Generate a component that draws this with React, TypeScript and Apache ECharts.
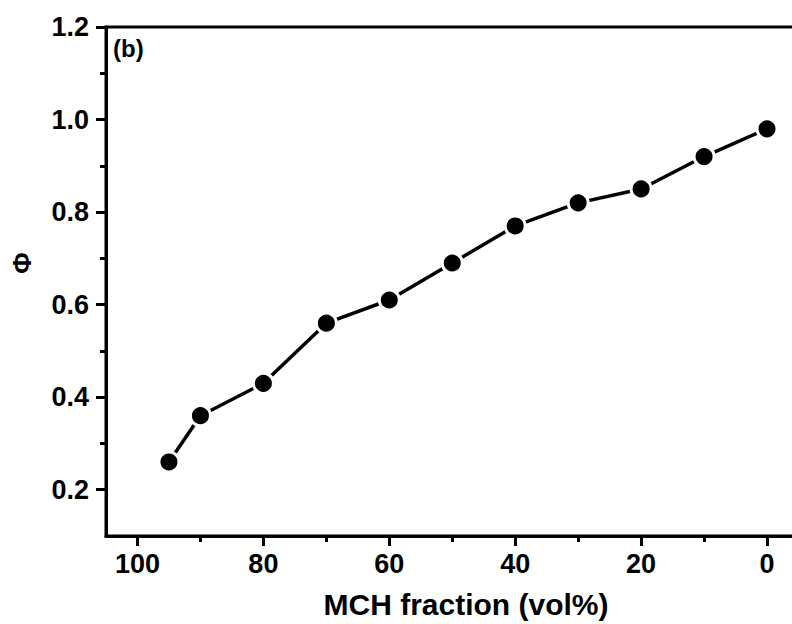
import React, { useEffect, useRef } from "react";
import * as echarts from "echarts";

const mchFraction = [95, 90, 80, 70, 60, 50, 40, 30, 20, 10, 0];
const phiValues = [0.26, 0.36, 0.43, 0.56, 0.61, 0.69, 0.77, 0.82, 0.85, 0.92, 0.98];
const xMajorTicks = [0, 20, 40, 60, 80, 100];
const xMinorTicks = [10, 30, 50, 70, 90];
const yMajorTicks = [0.2, 0.4, 0.6, 0.8, 1.0, 1.2];
const yMinorTicks = [0.3, 0.5, 0.7, 0.9, 1.1];
const xTitle = "MCH fraction (vol%)";
const yTitle = "Φ";
const panelLabel = "(b)";

const FONT = "Liberation Sans, Arial, sans-serif";

export default function App() {
  const ref = useRef<HTMLDivElement>(null);
  useEffect(() => {
    if (!ref.current) return;
    const chart = echarts.init(ref.current, undefined, { renderer: "svg" });
    const data = mchFraction.map((x, i) => [x, phiValues[i]]);
    const xBase = {
      type: "value",
      min: -5,
      max: 105,
      inverse: true,
      position: "bottom",
      splitLine: { show: false },
    };
    const yBase = {
      type: "value",
      min: 0.1,
      max: 1.2,
      position: "left",
      splitLine: { show: false },
    };
    chart.setOption({
      animation: false,
      backgroundColor: "#fff",
      grid: {
        left: 106,
        top: 27,
        bottom: 88,
        right: 1.5,
        show: true,
        borderColor: "#000",
        borderWidth: 3,
        backgroundColor: "transparent",
      },
      xAxis: [
        {
          ...xBase,
          axisLine: { show: true, onZero: false, lineStyle: { color: "#000", width: 3 } },
          axisTick: {
            show: true,
            customValues: xMajorTicks,
            length: 10,
            inside: false,
            lineStyle: { color: "#000", width: 3 },
          },
          axisLabel: {
            show: true,
            customValues: xMajorTicks,
            margin: 14,
            color: "#000",
            fontFamily: FONT,
            fontWeight: "bold",
            fontSize: 27,
            formatter: (v: number) => String(Math.round(v)),
          },
        },
        {
          ...xBase,
          axisLine: { show: false, onZero: false },
          axisTick: {
            show: true,
            customValues: xMinorTicks,
            length: 6,
            lineStyle: { color: "#000", width: 3 },
          },
          axisLabel: { show: false },
        },
      ],
      yAxis: [
        {
          ...yBase,
          axisLine: { show: true, onZero: false, lineStyle: { color: "#000", width: 3 } },
          axisTick: {
            show: true,
            customValues: yMajorTicks,
            length: 10,
            lineStyle: { color: "#000", width: 3 },
          },
          axisLabel: {
            show: true,
            customValues: yMajorTicks,
            margin: 17,
            color: "#000",
            fontFamily: FONT,
            fontWeight: "bold",
            fontSize: 27,
            formatter: (v: number) => v.toFixed(1),
          },
        },
        {
          ...yBase,
          axisLine: { show: false, onZero: false },
          axisTick: {
            show: true,
            customValues: yMinorTicks,
            length: 6,
            lineStyle: { color: "#000", width: 3 },
          },
          axisLabel: { show: false },
        },
      ],
      graphic: [
        {
          type: "text",
          left: 113,
          top: 36,
          style: {
            text: panelLabel,
            fill: "#000",
            font: `bold 24px ${FONT}`,
          },
        },
        {
          type: "text",
          x: 466,
          y: 604,
          style: {
            text: xTitle,
            fill: "#000",
            font: `bold 30px ${FONT}`,
            align: "center",
            verticalAlign: "middle",
          },
        },
        {
          type: "text",
          x: 22,
          y: 263,
          rotation: Math.PI / 2,
          style: {
            text: yTitle,
            fill: "#000",
            font: `bold 26px ${FONT}`,
            align: "center",
            verticalAlign: "middle",
          },
        },
      ],
      series: [
        {
          type: "line",
          data,
          xAxisIndex: 0,
          yAxisIndex: 0,
          symbol: "circle",
          symbolSize: 20,
          lineStyle: { color: "#000", width: 3.5 },
          itemStyle: { color: "#000", borderColor: "#fff", borderWidth: 3 },
          emphasis: { disabled: true },
        },
      ],
    });
    return () => chart.dispose();
  }, []);
  return (
    <div
      ref={ref}
      style={{ position: "fixed", left: 0, top: 0, width: 800, height: 624 }}
    />
  );
}
